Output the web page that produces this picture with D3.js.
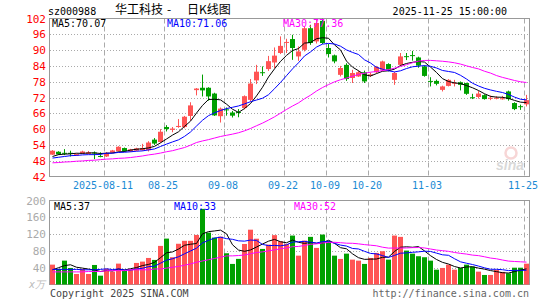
<!DOCTYPE html>
<html lang="zh">
<head>
<meta charset="UTF-8">
<title>华工科技 日K线图</title>
<script src="https://d3js.org/d3.v7.min.js"></script>
<style>
  body { margin: 0; background: #fff; }
  svg { display: block; }
  text { font-family: "DejaVu Sans Mono", monospace; font-size: 10px; }
</style>
</head>
<body>
<svg id="chart" width="545" height="300"></svg>
<script>
// trading days, 2025
const dates = [
  "07-29","07-30","07-31","08-01","08-04","08-05","08-06","08-07","08-08","08-11",
  "08-12","08-13","08-14","08-15","08-18","08-19","08-20","08-21","08-22","08-25",
  "08-26","08-27","08-28","08-29","09-01","09-02","09-03","09-04","09-05","09-08",
  "09-09","09-10","09-11","09-12","09-15","09-16","09-17","09-18","09-19","09-22",
  "09-23","09-24","09-25","09-26","09-29","09-30","10-09","10-10","10-13","10-14",
  "10-15","10-16","10-17","10-20","10-21","10-22","10-23","10-24","10-27","10-28",
  "10-29","10-30","10-31","11-03","11-04","11-05","11-06","11-07","11-10","11-11",
  "11-12","11-13","11-14","11-17","11-18","11-19","11-20","11-21","11-24","11-25"
];
const open = [
  50.3,51.4,51.0,51.0,50.0,50.7,50.6,51.1,49.8,49.6,
  51.1,51.6,52.8,51.5,51.8,52.0,52.0,56.0,55.1,60.8,
  59.7,60.8,60.8,65.0,74.8,75.7,75.7,73.5,64.9,67.5,
  66.3,66.5,68.0,71.1,78.5,81.6,82.8,85.3,88.9,92.8,
  94.2,87.6,90.1,98.3,93.3,101.1,90.8,88.0,80.6,84.4,
  79.4,80.0,81.6,80.3,81.6,82.5,84.7,78.7,84.4,87.7,
  88.1,87.2,83.8,78.3,78.3,74.9,76.4,77.3,77.8,77.5,
  72.1,72.2,72.9,71.6,71.6,71.5,74.3,69.9,68.7,69.4
];
const close = [
  51.8,50.4,50.8,50.7,50.5,51.5,51.2,50.9,49.6,51.0,
  51.9,53.3,51.6,52.3,52.7,52.8,54.9,54.5,59.0,60.0,
  60.2,61.2,64.7,69.0,75.4,74.7,72.4,65.2,67.8,67.3,
  65.1,66.3,72.5,77.3,81.8,81.5,85.8,87.9,91.6,93.1,
  90.8,89.5,98.3,92.7,100.3,92.7,88.5,85.7,83.2,79.0,
  81.3,81.6,78.1,80.8,83.6,85.7,82.5,81.3,87.6,87.5,
  87.9,84.1,80.2,78.1,77.2,76.2,78.7,77.6,76.8,73.4,
  72.0,73.5,71.4,71.9,71.9,71.7,71.4,67.6,68.6,71.0
];
const high = [
  52.0,51.6,52.4,51.8,50.7,51.8,51.7,51.5,51.2,51.3,
  52.1,53.5,53.0,52.5,52.9,54.4,55.4,56.6,60.0,61.5,
  60.8,63.8,65.0,70.2,75.6,80.7,75.9,73.8,68.2,68.2,
  66.9,67.6,72.8,79.0,84.4,83.8,87.8,91.0,95.2,94.3,
  95.8,91.4,99.0,99.6,101.5,101.9,92.3,88.3,84.0,85.0,
  82.5,82.2,82.2,81.5,84.0,86.0,85.0,81.8,88.9,88.9,
  89.7,87.5,84.2,79.7,78.8,76.5,79.0,78.7,78.1,77.6,
  73.4,74.5,73.2,72.7,72.5,72.6,74.6,70.2,69.3,73.0
];
const low = [
  50.2,50.2,50.1,49.6,49.9,50.6,50.5,48.6,49.3,49.4,
  51.0,51.5,51.3,51.3,51.6,51.8,51.5,54.0,54.8,59.1,
  58.8,60.5,60.3,63.2,72.8,72.4,70.8,65.0,62.5,65.1,
  64.4,64.5,67.5,70.5,77.1,80.2,82.1,83.2,88.5,88.9,
  86.3,85.9,89.5,92.0,92.5,92.3,87.2,85.0,80.0,78.3,
  77.5,79.8,77.5,79.8,81.2,82.0,82.0,76.8,84.0,86.2,
  86.0,83.3,79.9,76.2,76.6,74.3,76.2,76.2,74.7,73.0,
  71.4,71.6,71.2,71.0,71.3,71.2,70.8,67.2,67.3,68.6
];
// volume, 万手
const volume = [
  47.3,37,56.8,39.4,25,37,25,46.5,21,37.7,
  30.6,49.7,33.8,36.2,51.3,54.5,63.2,58.5,91.9,109.3,
  65,97,104,104,118,180,123.6,111.7,114,74.4,
  49,61,96.5,130.5,109,84.7,95,117.5,103,96.7,
  116.5,68.7,104.5,113.4,87.1,118.9,103,68.7,60.9,73.5,
  59.2,56.8,49,63.2,75.2,79.2,59.2,116.5,113.4,80.7,
  73.5,67.3,64.9,56.8,35.3,39.4,47.3,35.3,39.4,47.3,
  42.5,30.6,22.7,22.7,34.6,30,26.7,40,40,49.6
];
// moving-average values before a full window exists
const ma5Head = [49.6,50.3,50.5,50.6];
const ma10Head = [49.0,49.3,49.6,49.9,50.0,50.2,50.3,50.3,50.4];
const ma30Head = [47.2,47.3,47.5,47.6,47.8,47.9,48.1,48.2,48.4,48.6,48.7,48.9,49.0,49.2,49.5,
  49.8,50.2,50.5,50.9,51.4,51.8,52.4,53.0,53.9,54.9,55.5,56.0,56.6,57.2];
const vma5Head = [35,40,45,47];
const vma10Head = [36,36,36,36,36,35,35,35,36];
const vma30Head = [30,30,30,30,30,30,31,31,31,33,33,33,33,35,35,35,35,37,37,39,41,43,46,49,53,56,59,62,65];

// legend readings shown on the chart
const priceLegend = ["MA5:70.07", "MA10:71.06", "MA30:77.36"];
const volLegend = ["MA5:37", "MA10:33", "MA30:52"];

const priceTicks = [102,96,90,84,78,72,66,60,54,48,42];
const volTicks = [200,160,120,80,40];
const labelDays = ["08-11","08-25","09-08","09-22","10-09","10-20","11-03","11-25"];
const labelText = ["2025-08-11","08-25","09-08","09-22","10-09","10-20","11-03","11-25"];

const RED = "#ff5454", GREEN = "#00a000";

function movingAvg(vals, n, head) {
  return vals.map((v, i) => i < n - 1 ? head[i] : d3.mean(vals.slice(i - n + 1, i + 1)));
}

const ma5 = movingAvg(close, 5, ma5Head);
const ma10 = movingAvg(close, 10, ma10Head);
const ma30 = movingAvg(close, 30, ma30Head);
const vma5 = movingAvg(volume, 5, vma5Head);
const vma10 = movingAvg(volume, 10, vma10Head);
const vma30 = movingAvg(volume, 30, vma30Head);

const svg = d3.select("#chart");
const left = 50, right = 530;

const x = d3.scaleBand().domain(dates).range([left, right]);
const yP = d3.scaleLinear().domain([42, 102]).range([176.5, 18.5]);
const yV = d3.scaleLinear().domain([0, 200]).range([284.5, 200.5]);

const up = i => close[i] >= open[i];
const idx = d3.range(dates.length);
const cjk = "'Noto Sans CJK SC', sans-serif";

// header
svg.append("text").attr("x", 48).attr("y", 15).attr("fill", "#000").text("sz000988");
svg.append("text").attr("x", 115).attr("y", 14).attr("fill", "#000")
  .style("font-family", cjk).style("font-size", "12px").text("华工科技");
svg.append("text").attr("x", 167).attr("y", 14).attr("fill", "#000")
  .style("font-family", cjk).style("font-size", "12px").text("-");
svg.append("text").attr("x", 187).attr("y", 14).attr("fill", "#000")
  .style("font-family", cjk).style("font-size", "12px").text("日K线图");
svg.append("text").attr("x", 507).attr("y", 15).attr("text-anchor", "end").attr("fill", "#000")
  .text("2025-11-25 15:00:00");

function panel(yScale, top, bottom, gridVals) {
  const g = svg.append("g");
  g.selectAll(".hg").data(gridVals).join("line")
    .attr("x1", left).attr("x2", right - 1)
    .attr("y1", d => Math.round(yScale(d)) + 0.5).attr("y2", d => Math.round(yScale(d)) + 0.5)
    .attr("stroke", "#aaa").attr("stroke-dasharray", "1,2");
  g.selectAll(".vg").data(labelDays).join("line")
    .attr("x1", d => x(d) + 0.5).attr("x2", d => x(d) + 0.5)
    .attr("y1", top).attr("y2", bottom)
    .attr("stroke", "#aaa").attr("stroke-dasharray", "5,3");
  g.append("rect").attr("x", left - 0.5).attr("y", top).attr("width", right - left)
    .attr("height", bottom - top).attr("fill", "none").attr("stroke", "#999");
}

panel(yP, 18.5, 176.5, priceTicks.slice(1, -1));
panel(yV, 200.5, 284.5, volTicks.slice(1));

// price axis labels
const pAxis = svg.append("g").attr("transform", "translate(46,0)")
  .call(d3.axisLeft(yP).tickValues(priceTicks).tickSize(0).tickPadding(0));
pAxis.select(".domain").remove();
pAxis.selectAll("text").attr("fill", "#f00")
  .style("font-family", "'DejaVu Sans Mono', monospace").style("font-size", "11px");

// volume axis labels
const vAxis = svg.append("g").attr("transform", "translate(46,0)")
  .call(d3.axisLeft(yV).tickValues(volTicks).tickSize(0).tickPadding(0));
vAxis.select(".domain").remove();
vAxis.selectAll("text").attr("fill", "#aaa")
  .style("font-family", "'DejaVu Sans Mono', monospace").style("font-size", "11px");
svg.append("text").attr("x", 45).attr("y", 288).attr("text-anchor", "end").attr("fill", "#bbb")
  .style("font-style", "italic").text("x万");

// date labels
const dAxis = svg.append("g").attr("transform", "translate(-1,182)")
  .call(d3.axisBottom(x).tickValues(labelDays).tickSize(0).tickPadding(0)
    .tickFormat((d, i) => labelText[i]));
dAxis.select(".domain").remove();
dAxis.selectAll("text").attr("fill", "#1a8ad4").attr("dx", -x.bandwidth() / 2)
  .style("font-family", "'DejaVu Sans Mono', monospace").style("font-size", "10px");

// sina watermark
const wm = svg.append("g").attr("opacity", 0.55);
wm.append("circle").attr("cx", 511).attr("cy", 153).attr("r", 5.5)
  .attr("fill", "none").attr("stroke", "#f2b5b5").attr("stroke-width", 2.5);
wm.append("text").attr("x", 496).attr("y", 170).attr("fill", "#bbb")
  .style("font-family", "'Liberation Sans', sans-serif").style("font-size", "14px")
  .style("font-weight", "bold").style("font-style", "italic").text("sina");

// candles
const cw = 5;
const cx = i => x(dates[i]) + 2.5;
const candles = svg.append("g");
candles.selectAll("line").data(idx).join("line")
  .attr("x1", cx).attr("x2", cx)
  .attr("y1", i => yP(high[i])).attr("y2", i => yP(low[i]))
  .attr("stroke", i => up(i) ? RED : GREEN);
candles.selectAll("rect").data(idx).join("rect")
  .attr("x", i => x(dates[i]))
  .attr("y", i => yP(Math.max(open[i], close[i])))
  .attr("width", cw)
  .attr("height", i => Math.max(1, Math.abs(yP(open[i]) - yP(close[i]))))
  .attr("fill", i => up(i) ? RED : GREEN);

function maLine(vals, yScale, color) {
  svg.append("path").datum(idx)
    .attr("d", d3.line().x(cx).y(i => yScale(vals[i])))
    .attr("fill", "none").attr("stroke", color).attr("stroke-width", 1);
}
maLine(ma5, yP, "#000");
maLine(ma10, yP, "#0000ff");
maLine(ma30, yP, "#ff00ff");

// volume bars
svg.append("g").selectAll("rect").data(idx).join("rect")
  .attr("x", i => x(dates[i]))
  .attr("y", i => yV(volume[i]))
  .attr("width", cw)
  .attr("height", i => yV(0) - yV(volume[i]))
  .attr("fill", i => up(i) ? RED : GREEN);
maLine(vma5, yV, "#000");
maLine(vma10, yV, "#0000ff");
maLine(vma30, yV, "#ff00ff");

// legends
const legendColors = ["#000", "#0000ff", "#ff00ff"];
const legendX = [52, 167, 283], volLegendX = [54, 174, 294];
priceLegend.forEach((t, k) => svg.append("text").attr("x", legendX[k]).attr("y", 27)
  .attr("fill", legendColors[k]).text(t));
volLegend.forEach((t, k) => svg.append("text").attr("x", volLegendX[k]).attr("y", 210)
  .attr("fill", legendColors[k]).text(t));

// footer
svg.append("text").attr("x", 50).attr("y", 297).attr("fill", "#444").text("Copyright 2025 SINA.COM");
svg.append("text").attr("x", 529).attr("y", 297).attr("text-anchor", "end").attr("fill", "#666")
  .text("http://finance.sina.com.cn");
</script>
</body>
</html>
